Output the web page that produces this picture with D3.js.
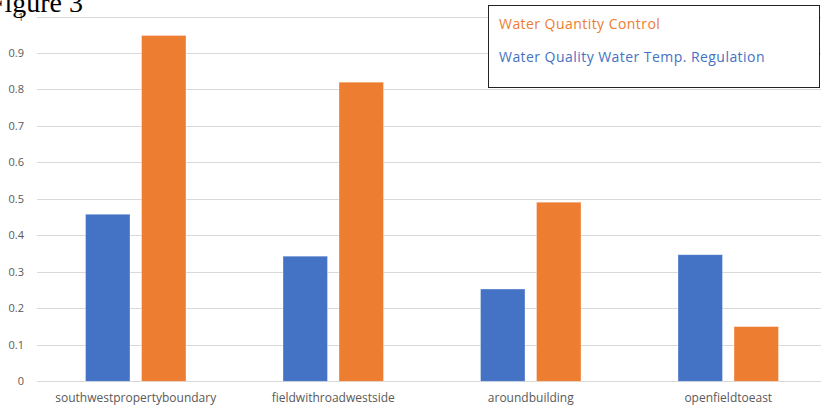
<!DOCTYPE html>
<html>
<head>
<meta charset="utf-8">
<script src="https://cdn.jsdelivr.net/npm/d3@7"></script>
<style>
  html, body { margin: 0; padding: 0; background: #fff; }
  svg { display: block; }
</style>
</head>
<body>
<svg id="chart" width="821" height="407"></svg>
<script>
// Sites along the x axis
const categories = ["southwestpropertyboundary", "fieldwithroadwestside", "aroundbuilding", "openfieldtoeast"];
// Series values per site
const qualityTemp = [0.458, 0.343, 0.253, 0.347];
const quantityControl = [0.948, 0.820, 0.491, 0.150];
const seriesNames = ["Water Quality Water Temp. Regulation", "Water Quantity Control"];
const yTicks = [0, 0.1, 0.2, 0.3, 0.4, 0.5, 0.6, 0.7, 0.8, 0.9, 1];

const colors = { blue: "#4472C4", orange: "#ED7D31" };
const svg = d3.select("#chart");

const plot = { left: 37, right: 827, top: 16.5, bottom: 381.3 };

const x = d3.scaleBand().domain(categories).range([plot.left, plot.right]).paddingInner(0).paddingOuter(0);
// two bars per site: ~44.5px wide with an ~11.5px gap, centred in the band
const inner = d3.scaleBand().domain([0, 1])
  .range([48.5, 48.5 + 44.5 * 2 + 11.5])
  .paddingInner(11.5 / 56).paddingOuter(0);

const y = d3.scaleLinear().domain([0, 1]).range([plot.bottom, plot.top]);

// Gridlines
svg.append("g")
  .selectAll("line")
  .data(yTicks)
  .join("line")
  .attr("x1", plot.left).attr("x2", 821)
  .attr("y1", d => Math.round(y(d)) + 0.5).attr("y2", d => Math.round(y(d)) + 0.5)
  .attr("stroke", "#D9D9D9").attr("stroke-width", 1);

// Y axis labels
const yAxis = d3.axisLeft(y).tickValues(yTicks).tickSize(0).tickPadding(0)
  .tickFormat(d => d === 0 ? "0" : d === 1 ? "1" : d3.format(".1f")(d));
const yg = svg.append("g").attr("transform", "translate(24,0)").call(yAxis);
yg.select(".domain").remove();
yg.selectAll("text")
  .attr("fill", "#595959")
  .style("font-family", "'Open Sans', sans-serif")
  .style("font-size", "11px");

// Bars
const rows = categories.map((c, i) => ({ c, vals: [qualityTemp[i], quantityControl[i]] }));
const groups = svg.append("g").selectAll("g")
  .data(rows).join("g")
  .attr("transform", d => `translate(${x(d.c)},0)`);
groups.selectAll("rect")
  .data(d => d.vals.map((v, k) => ({ v, k })))
  .join("rect")
  .attr("x", d => inner(d.k))
  .attr("width", inner.bandwidth())
  .attr("y", d => y(d.v))
  .attr("height", d => y(0) - y(d.v))
  .attr("fill", d => d.k === 0 ? colors.blue : colors.orange)
  .attr("stroke", "#ffffff").attr("stroke-opacity", 0.45).attr("stroke-width", 0.75);

// X axis labels
const xAxis = d3.axisBottom(x).tickSize(0).tickPadding(0);
const xg = svg.append("g").attr("transform", `translate(0,${plot.bottom + 12})`).call(xAxis);
xg.select(".domain").remove();
xg.selectAll("text")
  .attr("fill", "#595959")
  .style("font-family", "'Open Sans', sans-serif")
  .style("font-size", "12px");

// Legend
const lg = svg.append("g");
lg.append("rect")
  .attr("x", 488.5).attr("y", 5.5).attr("width", 331).attr("height", 82)
  .attr("fill", "#fff").attr("stroke", "#222").attr("stroke-width", 1);
lg.append("text").attr("x", 499).attr("y", 28.5)
  .attr("fill", colors.orange)
  .style("font-family", "'Open Sans', sans-serif").style("font-size", "14px")
  .style("letter-spacing", "0.45px")
  .text(seriesNames[1]);
lg.append("text").attr("x", 499).attr("y", 62)
  .attr("fill", colors.blue)
  .style("font-family", "'Open Sans', sans-serif").style("font-size", "14px")
  .style("letter-spacing", "0.45px")
  .text(seriesNames[0]);

// Caption
svg.append("text")
  .attr("x", 83).attr("y", 12)
  .attr("text-anchor", "end")
  .attr("fill", "#000")
  .style("font-family", "'Liberation Serif', 'Times New Roman', serif")
  .style("font-size", "28px")
  .text("Figure 3");
</script>
</body>
</html>
